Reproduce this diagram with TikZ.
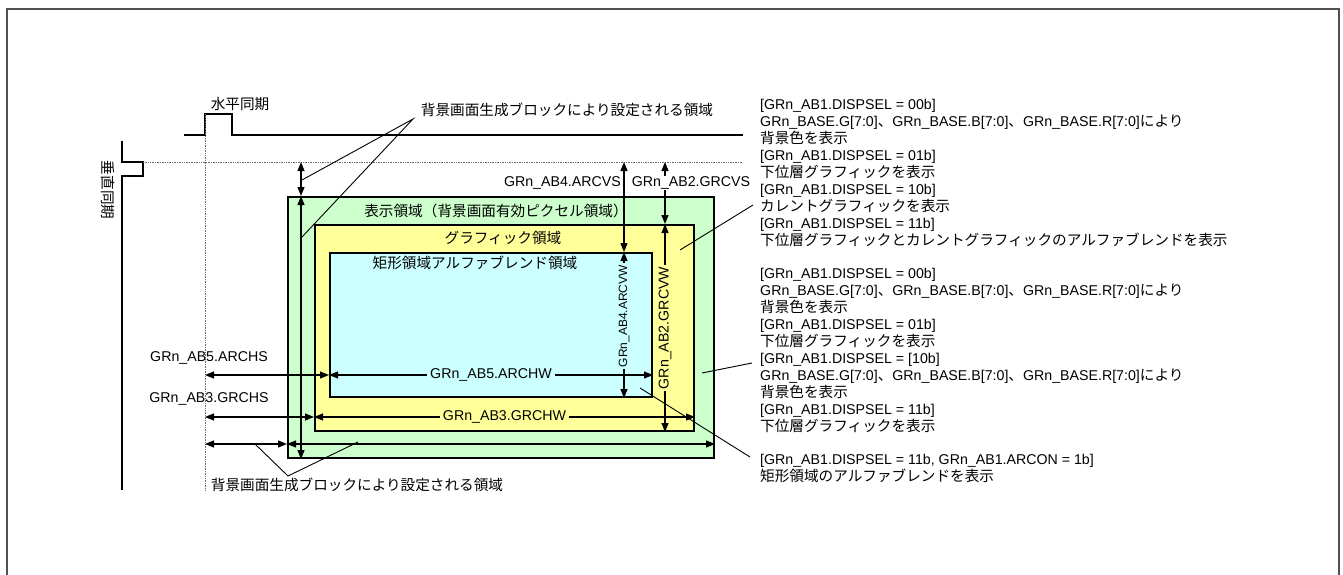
\documentclass[tikz,border=0pt]{standalone}
\usepackage{fontspec}
\setmainfont{Liberation Sans}
\newfontfamily\jp{Noto Sans CJK JP}[Scale=1.03]
\usetikzlibrary{arrows.meta, positioning, calc}
\definecolor{areagreen}{RGB}{204,255,204}
\definecolor{areayellow}{RGB}{255,255,153}
\definecolor{areacyan}{RGB}{204,255,255}
\definecolor{framegray}{RGB}{80,80,80}
\definecolor{dotgray}{RGB}{110,110,110}
\tikzset{
  area/.style={
    rectangle, draw=black, line width=2pt, anchor=north west, inner sep=0pt
  },
  dim/.style={{Triangle[length=9pt,width=7pt]}-{Triangle[length=9pt,width=7pt]},
    line width=1.2pt},
  sig/.style={line width=2pt},
  refline/.style={densely dotted, line width=0.7pt, color=dotgray},
  leader/.style={line width=0.9pt},
  lbl/.style={inner sep=1pt},
  note/.style={align=left, anchor=north west, inner sep=0pt}
}

\begin{document}
\begin{tikzpicture}[x=1pt, y=-1pt,
                    every node/.style={font=\fontsize{14.2}{17}\selectfont}]
  \useasboundingbox (0,0) rectangle (1343,575);
  \draw[line width=2pt, color=framegray] (7,575) -- (7,9) -- (1339,9) -- (1339,575);

  % areas
  \node[area, fill=areagreen, minimum width=426pt, minimum height=261pt] (disp) at (287,196) {};
  \node[area, fill=areayellow, minimum width=379pt, minimum height=206pt] (gfx) at (314,224) {};
  \node[area, fill=areacyan, minimum width=322pt, minimum height=144pt] (blend) at (329,252) {};
  \node[lbl] (disptitle) at (496,211) {\jp 表示領域（背景画面有効ピクセル領域）};
  \node[lbl] (gfxtitle) at (503,238) {\jp グラフィック領域};
  \node[lbl] (blendtitle) at (475,263) {\jp 矩形領域アルファブレンド領域};

  % sync signals
  \draw[sig] (184,135) -- (205,135) -- (205,114) -- (232,114) -- (232,135) -- (743,135);
  \node[lbl] (hsynclbl) at (240,104) {\jp 水平同期};
  \draw[sig] (122,141) -- (122,162) -- (143,162) -- (143,176) -- (122,176) -- (122,490);
  \node[lbl, rotate=-90] (vsynclbl) at (108,190) {\jp 垂直同期};
  \coordinate (vref) at (205,114);
  \coordinate (href) at (143,162);
  \draw[refline] (vref) -- (205,490);
  \draw[refline] (href) -- (743,162);

  % dimension lines
  \coordinate (bgx) at (301,0);
  \coordinate (arx) at (624,0);
  \coordinate (grx) at (665,0);
  \coordinate (ary) at (0,375);
  \coordinate (gry) at (0,417);
  \coordinate (bgy) at (0,444);

  \draw[dim] (bgx |- href) -- (bgx |- disp.north);
  \draw[dim] (bgx |- disp.north) -- (bgx |- disp.south);
  \draw[dim] (arx |- href) -- (arx |- blend.north);
  \draw[dim] (arx |- blend.north) -- node[pos=0.44, rotate=90, fill=areacyan, inner sep=2pt,
    font=\fontsize{12}{14}\selectfont] (arcvw) {GRn\_AB4.ARCVW} (arx |- blend.south);
  \node[lbl, anchor=east] (arcvs) at (622,183) {GRn\_AB4.ARCVS};
  \draw[dim] (grx |- href) -- (grx |- gfx.north);
  \node[lbl, fill=white] (grcvs) at (691,183) {GRn\_AB2.GRCVS};
  \draw[dim] (grx |- gfx.north) -- node[midway, rotate=90, fill=areayellow, inner sep=2pt]
    (grcvw) {GRn\_AB2.GRCVW} (grx |- gfx.south);

  \draw[dim] (vref |- ary) -- (ary -| blend.west);
  \draw[dim] (ary -| blend.west) -- node[midway, fill=areacyan, inner sep=3pt]
    (archw) {GRn\_AB5.ARCHW} (ary -| blend.east);
  \node[lbl] (archs) at (209,358) {GRn\_AB5.ARCHS};
  \draw[dim] (vref |- gry) -- (gry -| gfx.west);
  \draw[dim] (gry -| gfx.west) -- node[midway, fill=areayellow, inner sep=3pt]
    (grchw) {GRn\_AB3.GRCHW} (gry -| gfx.east);
  \node[lbl] (grchs) at (209,399) {GRn\_AB3.GRCHS};
  \draw[dim] (vref |- bgy) -- (bgy -| disp.west);
  \draw[dim] (bgy -| disp.west) -- (bgy -| disp.east);

  % background block labels
  \node[lbl] (bgtop) at (567,110) {\jp 背景画面生成ブロックにより設定される領域};
  \coordinate (bgtopfoot) at (413,119);
  \coordinate (bgtopA) at (302,180);
  \coordinate (bgtopB) at (302,237);
  \draw[leader] (bgtopA) -- (bgtopfoot) -- (bgtopB);
  \node[lbl] (bgbot) at (357,485) {\jp 背景画面生成ブロックにより設定される領域};
  \coordinate (bgbotfoot) at (288,476);
  \coordinate (bgbotA) at (255,444);
  \coordinate (bgbotB) at (358,442);
  \draw[leader] (bgbotA) -- (bgbotfoot) -- (bgbotB);

  % notes
  \node[note] (note1) at (760,99) {%
    {[}GRn\_AB1.DISPSEL = 00b]\\
    GRn\_BASE.G[7:0]{\jp 、}GRn\_BASE.B[7:0]{\jp 、}GRn\_BASE.R[7:0]{\jp により}\\
    {\jp 背景色を表示}\\
    {[}GRn\_AB1.DISPSEL = 01b]\\
    {\jp 下位層グラフィックを表示}\\
    {[}GRn\_AB1.DISPSEL = 10b]\\
    {\jp カレントグラフィックを表示}\\
    {[}GRn\_AB1.DISPSEL = 11b]\\
    {\jp 下位層グラフィックとカレントグラフィックのアルファブレンドを表示}};
  \node[note] (note2) at (760,268) {%
    {[}GRn\_AB1.DISPSEL = 00b]\\
    GRn\_BASE.G[7:0]{\jp 、}GRn\_BASE.B[7:0]{\jp 、}GRn\_BASE.R[7:0]{\jp により}\\
    {\jp 背景色を表示}\\
    {[}GRn\_AB1.DISPSEL = 01b]\\
    {\jp 下位層グラフィックを表示}\\
    {[}GRn\_AB1.DISPSEL = [10b]\\
    GRn\_BASE.G[7:0]{\jp 、}GRn\_BASE.B[7:0]{\jp 、}GRn\_BASE.R[7:0]{\jp により}\\
    {\jp 背景色を表示}\\
    {[}GRn\_AB1.DISPSEL = 11b]\\
    {\jp 下位層グラフィックを表示}};
  \node[note] (note3) at (760,454) {%
    {[}GRn\_AB1.DISPSEL = 11b, GRn\_AB1.ARCON = 1b]\\
    {\jp 矩形領域のアルファブレンドを表示}};
  \coordinate (note1foot) at (753,205);
  \coordinate (gfxpt) at (680,250);
  \draw[leader] (note1foot) -- (gfxpt);
  \coordinate (note2foot) at (752,363);
  \coordinate (disppt) at (702,373);
  \draw[leader] (note2foot) -- (disppt);
  \coordinate (note3foot) at (750,457);
  \coordinate (blendpt) at (640,388);
  \draw[leader] (note3foot) -- (blendpt);
\end{tikzpicture}
\end{document}
